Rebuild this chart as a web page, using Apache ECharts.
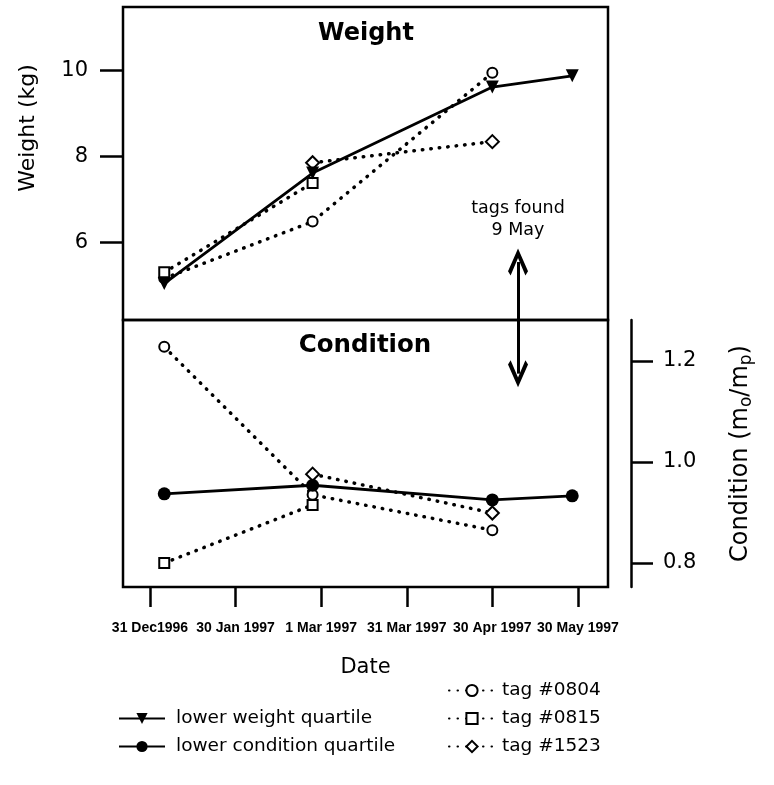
<!DOCTYPE html>
<html>
<head>
<meta charset="utf-8">
<script src="https://cdn.jsdelivr.net/npm/echarts@6/dist/echarts.min.js"></script>
<style>
html,body{margin:0;padding:0;background:#fff;}
#chart{width:774px;height:785px;}
</style>
</head>
<body>
<div id="chart"></div>
<script>
// ---- data ----
const dates = ['1997-01-05', '1997-02-26', '1997-04-30', '1997-05-28'];
const lowerWeight = [5.05, 7.62, 9.62, 9.88];
const lowerCondition = [0.937, 0.954, 0.925, 0.933];
const tag0804Weight = [5.17, 6.49, 9.95, null];
const tag0815Weight = [5.31, 7.39, null, null];
const tag1523Weight = [null, 7.86, 8.35, null];
const tag0804Condition = [1.228, 0.935, 0.865, null];
const tag0815Condition = [0.80, 0.915, null, null];
const tag1523Condition = [null, 0.976, 0.899, null];
const xTickDates = ['1996-12-31', '1997-01-30', '1997-03-01', '1997-03-31', '1997-04-30', '1997-05-30'];
const xTickLabels = ['31 Dec1996', '30 Jan 1997', '1 Mar 1997', '31 Mar 1997', '30 Apr 1997', '30 May 1997'];
const weightTicks = [6, 8, 10];
const conditionTicks = [0.8, 1.0, 1.2];
const tagsFoundDate = '1997-05-09';
const tagsFoundText = 'tags found\n9 May';

// ---- helpers ----
const FONT = 'DejaVu Sans';
const ORIGIN = Date.UTC(1996, 11, 31);
function dayNum(s) {
  const p = s.split('-').map(Number);
  return (Date.UTC(p[0], p[1] - 1, p[2]) - ORIGIN) / 86400000;
}
function pairs(vals) {
  return dates.map((d, i) => vals[i] == null ? null : [dayNum(d), vals[i]]).filter(p => p);
}
const tickDays = xTickDates.map(dayNum);
const arrowDay = dayNum(tagsFoundDate);

const X_MIN = -9.46, X_MAX = 160.54;
const W_MIN = 4.202, W_MAX = 11.481;
const C_MIN = 0.7525, C_MAX = 1.2812;

const dotted = { type: [0.5, 8], width: 3.5, cap: 'round', color: '#000' };
const solid = { type: 'solid', width: 2.8, color: '#000' };
const emptyItem = { color: '#000', borderColor: '#000', borderWidth: 2.5 };
const chevron = 'path://M0,0 L10,13 L7.4,15.5 L0,5.5 L-7.4,15.5 L-10,13 Z';

const chart = echarts.init(document.getElementById('chart'));
chart.setOption({
  animation: false,
  backgroundColor: '#fff',
  textStyle: { fontFamily: FONT, color: '#000' },
  grid: [
    { left: 123, top: 7, width: 485, height: 313, show: true, borderColor: '#000', borderWidth: 2.5, backgroundColor: 'transparent' },
    { left: 123, top: 320, width: 485, height: 267, show: true, borderColor: '#000', borderWidth: 2.5, backgroundColor: 'transparent' }
  ],
  xAxis: [
    { gridIndex: 0, type: 'value', min: X_MIN, max: X_MAX, show: false },
    {
      gridIndex: 1, type: 'value', min: X_MIN, max: X_MAX,
      axisLine: { show: false, onZero: false },
      splitLine: { show: false },
      axisTick: { show: true, length: 20, customValues: tickDays, lineStyle: { width: 2.5, color: '#000' } },
      axisLabel: {
        customValues: tickDays, margin: 34, fontSize: 14, fontWeight: 'bold', color: '#000',
        fontFamily: 'Liberation Sans', hideOverlap: false, showMinLabel: true, showMaxLabel: true,
        formatter: v => { const i = tickDays.findIndex(t => Math.abs(t - v) < 0.01); return i >= 0 ? xTickLabels[i] : ''; }
      },
      name: 'Date', nameLocation: 'middle', nameGap: 70,
      nameTextStyle: { fontSize: 21, color: '#000', fontFamily: FONT }
    }
  ],
  yAxis: [
    {
      gridIndex: 0, type: 'value', min: W_MIN, max: W_MAX, position: 'left',
      axisLine: { show: false, onZero: false }, splitLine: { show: false },
      axisTick: { show: true, length: 23, customValues: weightTicks, lineStyle: { width: 2.5, color: '#000' } },
      axisLabel: { customValues: weightTicks, margin: 35, fontSize: 21, color: '#000', fontFamily: FONT }
    },
    {
      gridIndex: 1, type: 'value', min: C_MIN, max: C_MAX, position: 'right', offset: 23,
      axisLine: { show: true, onZero: false, lineStyle: { width: 2.5, color: '#000' } }, splitLine: { show: false },
      axisTick: { show: true, length: 22, customValues: conditionTicks, lineStyle: { width: 2.5, color: '#000' } },
      axisLabel: { customValues: conditionTicks, margin: 32, fontSize: 21, color: '#000', fontFamily: FONT, formatter: v => v.toFixed(1) },
      name: '{a|Condition (m}{s|o}{a|/m}{s|p}{a|)}',
      nameLocation: 'middle', nameGap: 96, nameRotate: 90,
      nameTextStyle: {
        rich: {
          a: { fontSize: 24, fontFamily: FONT, color: '#000', lineHeight: 28 },
          s: { fontSize: 17, fontFamily: FONT, color: '#000', lineHeight: 20, verticalAlign: 'bottom' }
        }
      }
    }
  ],
  legend: [
    {
      data: ['lower weight quartile', 'lower condition quartile'],
      orient: 'vertical', left: 113, top: 704, itemWidth: 46, itemHeight: 14, itemGap: 9,
      textStyle: { fontSize: 18.5, fontFamily: FONT, color: '#000', padding: [0, 0, 0, 6] }
    },
    {
      data: ['tag #0804', 'tag #0815', 'tag #1523'],
      orient: 'vertical', left: 443, top: 676, itemWidth: 46, itemHeight: 14, itemGap: 9,
      textStyle: { fontSize: 18.5, fontFamily: FONT, color: '#000', padding: [0, 0, 0, 2] }
    }
  ],
  graphic: [
    { type: 'text', x: 366, y: 34, style: { text: 'Weight', fontSize: 24, fontWeight: 'bold', fontFamily: FONT, fill: '#000', align: 'center', verticalAlign: 'middle' } },
    { type: 'text', x: 365, y: 346, style: { text: 'Condition', fontSize: 24.5, fontWeight: 'bold', fontFamily: FONT, fill: '#000', align: 'center', verticalAlign: 'middle' } },
    { type: 'text', x: 28, y: 128, rotation: Math.PI / 2, style: { text: 'Weight (kg)', fontSize: 22, fontFamily: FONT, fill: '#000', align: 'center', verticalAlign: 'middle' } },
    { type: 'text', x: 518, y: 219, style: { text: tagsFoundText, fontSize: 17.5, lineHeight: 22, fontFamily: FONT, fill: '#000', align: 'center', verticalAlign: 'middle' } }
  ],
  series: [
    {
      name: 'lower weight quartile', type: 'line', xAxisIndex: 0, yAxisIndex: 0, z: 5,
      data: pairs(lowerWeight), symbol: 'triangle', symbolRotate: 180, symbolSize: 13,
      lineStyle: solid, itemStyle: { color: '#000' },
      markLine: {
        silent: true, symbol: [chevron, 'none'], symbolSize: [20, 27],
        lineStyle: { type: 'solid', width: 3, color: '#000' }, label: { show: false },
        data: [[{ coord: [arrowDay, 5.55] }, { coord: [arrowDay, W_MIN] }]]
      }
    },
    { name: 'tag #0804', type: 'line', xAxisIndex: 0, yAxisIndex: 0, data: pairs(tag0804Weight), symbol: 'emptyCircle', symbolSize: 10, lineStyle: dotted, itemStyle: emptyItem },
    { name: 'tag #0815', type: 'line', xAxisIndex: 0, yAxisIndex: 0, data: pairs(tag0815Weight), symbol: 'emptyRect', symbolSize: 10, lineStyle: dotted, itemStyle: emptyItem },
    { name: 'tag #1523', type: 'line', xAxisIndex: 0, yAxisIndex: 0, data: pairs(tag1523Weight), symbol: 'emptyDiamond', symbolSize: 13, lineStyle: dotted, itemStyle: emptyItem },
    {
      name: 'lower condition quartile', type: 'line', xAxisIndex: 1, yAxisIndex: 1, z: 5,
      data: pairs(lowerCondition), symbol: 'circle', symbolSize: 13,
      lineStyle: solid, itemStyle: { color: '#000' },
      markLine: {
        silent: true, symbol: ['none', chevron], symbolSize: [20, 27],
        lineStyle: { type: 'solid', width: 3, color: '#000' }, label: { show: false },
        data: [[{ coord: [arrowDay, C_MAX] }, { coord: [arrowDay, 1.175] }]]
      }
    },
    { name: 'tag #0804', type: 'line', xAxisIndex: 1, yAxisIndex: 1, data: pairs(tag0804Condition), symbol: 'emptyCircle', symbolSize: 10, lineStyle: dotted, itemStyle: emptyItem },
    { name: 'tag #0815', type: 'line', xAxisIndex: 1, yAxisIndex: 1, data: pairs(tag0815Condition), symbol: 'emptyRect', symbolSize: 10, lineStyle: dotted, itemStyle: emptyItem },
    { name: 'tag #1523', type: 'line', xAxisIndex: 1, yAxisIndex: 1, data: pairs(tag1523Condition), symbol: 'emptyDiamond', symbolSize: 13, lineStyle: dotted, itemStyle: emptyItem }
  ]
});
</script>
</body>
</html>
